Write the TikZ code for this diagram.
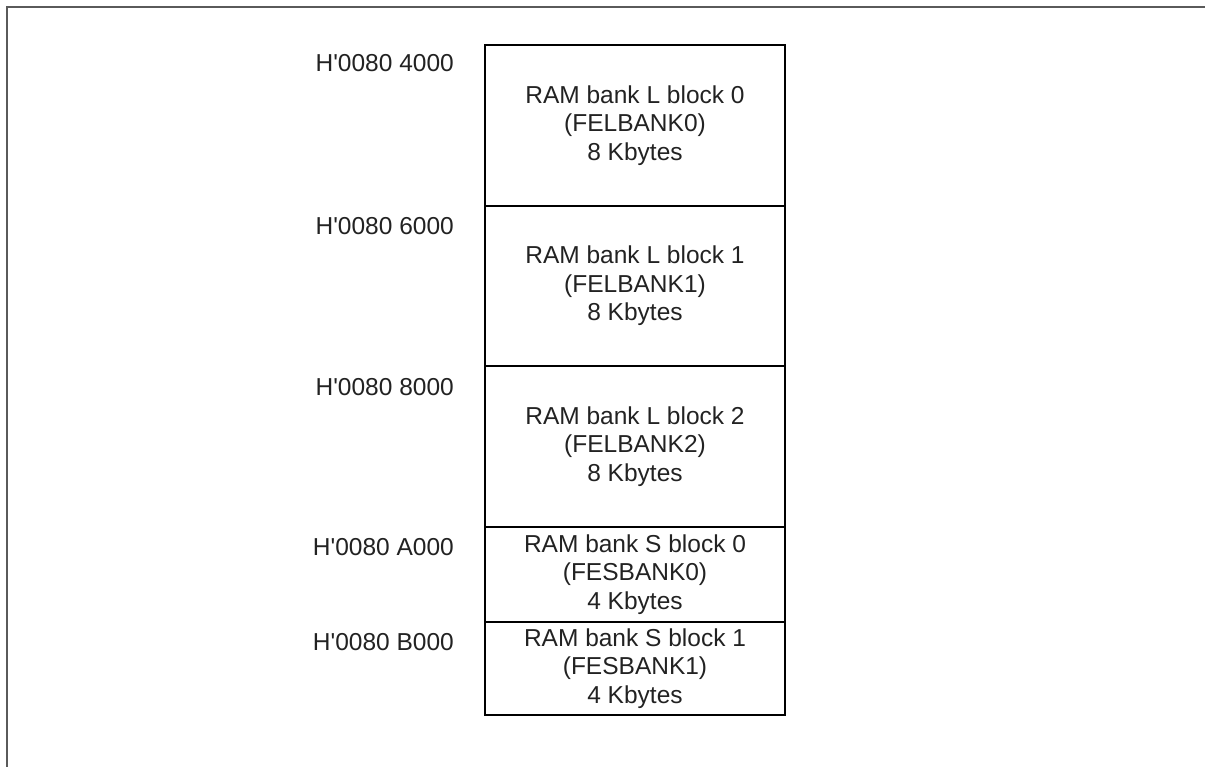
\documentclass[tikz,border=0pt]{standalone}
\usepackage{fontspec}
\setmainfont{Liberation Sans}
\newfontfamily\plainsans{Liberation Sans}
\definecolor{txt}{HTML}{222222}
\definecolor{frame}{HTML}{5A5A5A}
\tikzset{
  bank/.style={draw=black, line width=2pt, minimum width=300pt, inner sep=0pt,
    align=center, text=txt, font=\fontsize{24.5}{28.5}\selectfont},
  addr/.style={anchor=base east, inner sep=0pt, text=txt, font=\plainsans\fontsize{24.5}{28.5}\selectfont}
}
\begin{document}
\begin{tikzpicture}[x=1pt,y=-1pt]
\useasboundingbox (0,0) rectangle (1205,767);
\draw[frame, line width=2pt] (6.5,767) -- (6.5,7.5) -- (1205,7.5);
\node[bank, minimum height=161pt] (b0) at (635,125.5) {RAM bank L block 0\\(FELBANK0)\\8 Kbytes};
\node[bank, minimum height=160pt] (b1) at (635,286) {RAM bank L block 1\\(FELBANK1)\\8 Kbytes};
\node[bank, minimum height=161pt] (b2) at (635,446.5) {RAM bank L block 2\\(FELBANK2)\\8 Kbytes};
\node[bank, minimum height=95pt] (b3) at (635,574.5) {RAM bank S block 0\\(FESBANK0)\\4 Kbytes};
\node[bank, minimum height=93pt] (b4) at (635,668.5) {RAM bank S block 1\\(FESBANK1)\\4 Kbytes};
\node[addr] (a0) at (454,72) {H'0080 4000};
\node[addr] (a1) at (454,235) {H'0080 6000};
\node[addr] (a2) at (454,395) {H'0080 8000};
\node[addr] (a3) at (454,555) {H'0080 A000};
\node[addr] (a4) at (454,650) {H'0080 B000};
\end{tikzpicture}
\end{document}
